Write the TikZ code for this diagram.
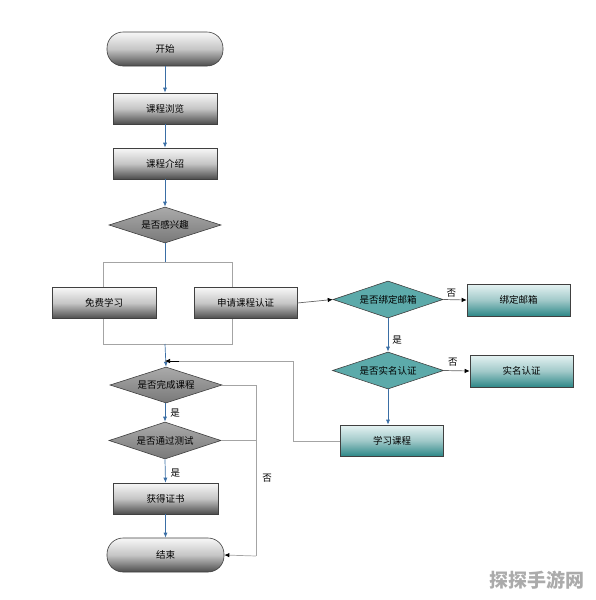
\documentclass[tikz,border=0pt]{standalone}
\usepackage{fontspec}
\setmainfont{Noto Sans CJK SC}
\usetikzlibrary{shapes.geometric,arrows.meta,backgrounds}
\definecolor{flowblue}{HTML}{3A6EA5}
\definecolor{linegray}{HTML}{A4A4A4}
\definecolor{edgegray}{HTML}{404040}
\definecolor{teal1}{HTML}{E6F3F3}
\definecolor{teal2}{HTML}{2E8888}
\definecolor{tealdia}{HTML}{5CAAAA}
\definecolor{graydia}{HTML}{8E8E8E}
\definecolor{wmark}{HTML}{ABABAB}
\tikzset{
  base/.style={draw=edgegray, line width=0.6pt, inner sep=0pt, font=\fontsize{9.5}{11}\selectfont, text=black},
  graybox/.style={base, rectangle, top color=gray!6, bottom color=black!70, middle color=gray!45, minimum width=104pt, minimum height=31pt},
  tealbox/.style={base, rectangle, top color=teal1, bottom color=teal2, middle color=teal2!45!white, minimum width=103pt, minimum height=32pt},
  termbox/.style={base, rectangle, rounded corners=16pt, top color=gray!6, bottom color=black!70, middle color=gray!45, minimum width=116pt, minimum height=34pt},
  graydiam/.style={base, diamond, aspect=3, top color=graydia!75!white, bottom color=graydia!85!black, minimum width=112pt, minimum height=36pt},
  tealdiam/.style={base, diamond, aspect=3, fill=tealdia, minimum width=111pt, minimum height=37pt},
  flow/.style={draw=flowblue, line width=0.7pt, -{Latex[length=5pt,width=4pt]}},
  glink/.style={draw=linegray, line width=0.7pt},
  garrow/.style={draw=gray!80!black, line width=0.7pt, -{Latex[length=5pt,width=4.5pt,color=black]}},
  lbl/.style={font=\fontsize{9.5}{11}\selectfont, inner sep=0pt},
}
\begin{document}
\begin{tikzpicture}[x=1pt,y=-1pt]
\useasboundingbox (0,0) rectangle (596,600);
% nodes
\node[termbox] (start) at (165,49) {开始};
\node[graybox] (b1) at (165,108.5) {课程浏览};
\node[graybox] (b2) at (165,163.5) {课程介绍};
\node[graydiam] (d1) at (165,225) {是否感兴趣};
\node[graybox] (f1) at (104,303) {免费学习};
\node[graybox, minimum width=103pt] (f2) at (245.5,303) {申请课程认证};
\node[tealdiam, minimum width=110pt] (d2) at (388,299.5) {是否绑定邮箱};
\node[tealbox] (t1) at (518.5,300) {绑定邮箱};
\node[tealdiam] (d3) at (388,370.5) {是否实名认证};
\node[tealbox] (t2) at (521.5,371) {实名认证};
\node[tealbox, minimum height=31pt] (t3) at (392,440.5) {学习课程};
\node[graydiam] (d4) at (166,385) {是否完成课程};
\node[graydiam, minimum height=37pt] (d5) at (165,440.5) {是否通过测试};
\node[graybox, minimum width=105pt] (b3) at (165.5,498.5) {获得证书};
\node[termbox, minimum width=117pt] (end) at (165.5,555) {结束};
% coordinates
\coordinate (sp) at (165,262);
\coordinate (spl) at (103,262);
\coordinate (spr) at (232,262);
\coordinate (jn) at (165,344);
\coordinate (jnl) at (103,344);
\coordinate (jnr) at (232,344);
\coordinate (ret) at (165,361);
\coordinate (retc) at (293,361);
\coordinate (retb) at (293,441);
\coordinate (nox) at (256,385);
\coordinate (noy) at (256,556);
% branch frame behind boxes
\begin{scope}[on background layer]
\draw[glink] (spl) -- (spr) -- (jnr) -- (jnl) -- cycle;
\end{scope}
% main flow
\draw[flow] (start) -- (b1);
\draw[flow] (b1) -- (b2);
\draw[flow] (b2) -- (d1);
\draw[draw=flowblue, line width=0.7pt] (d1.south) -- (sp);
\draw[flow] (jn) -- (d4.north);
\draw[garrow] (f2.east) -- (d2.west);
\draw[garrow] (d2.east) -- node[lbl, above=2pt, pos=0.35] {否} (t1.west);
\draw[flow] (d2.south) -- node[lbl, right=4pt, pos=0.65] {是} (d3.north);
\draw[garrow] (d3.east) -- node[lbl, above=4pt, pos=0.35] {否} (t2.west);
\draw[flow] (d3.south) -- (d3.south |- t3.north);
\draw[glink] (t3.west |- retb) -- (retb) -- (retc) -- (ret);
\draw[garrow, draw=black] ([xshift=14pt]ret) -- (ret);
\draw[flow] (d4.south -| d5.north) -- node[lbl, right=5pt, pos=0.55] {是} (d5.north);
\draw[flow] (d5.south) -- node[lbl, right=5pt, pos=0.6] {是} (b3.north);
\draw[flow] (b3) -- (end);
\draw[glink] (d4.east) -- (nox) -- (noy);
\draw[glink] (d5.east) -- (d5.east -| nox);
\draw[garrow, draw=linegray] (noy) -- (end.east);
\node[lbl] (no3) at (267,478) {否};
% watermark
\node[font=\fontsize{19}{20}\selectfont\bfseries, text=wmark, inner sep=0pt] (wm) at (537,580) {探探手游网};
\end{tikzpicture}
\end{document}
